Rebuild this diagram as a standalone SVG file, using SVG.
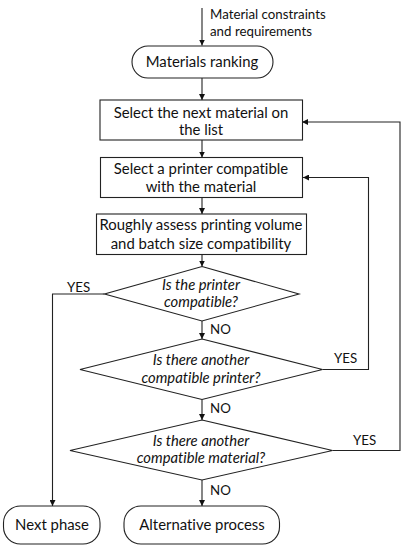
<svg xmlns="http://www.w3.org/2000/svg" width="407" height="550" viewBox="0 0 407 550">
<style>
text{font-variant-ligatures:none}
.s{fill:#fff;stroke:#222;stroke-width:1.1}
.t{font-family:Lato,"Liberation Sans",sans-serif;font-size:14.9px;fill:#111;text-anchor:middle}
.i{font-family:Lato,"Liberation Sans",sans-serif;font-size:14.8px;font-style:italic;fill:#111;text-anchor:middle}
.l{font-family:Lato,"Liberation Sans",sans-serif;font-size:13.3px;fill:#111}
.c{fill:none;stroke:#222;stroke-width:1.1}
</style>
<defs>
<marker id="a" viewBox="0 0 8 8" refX="8" refY="4" markerWidth="6" markerHeight="6" markerUnits="userSpaceOnUse" orient="auto">
<path d="M0,0 L8,4 L0,8 z" fill="#111"/>
</marker>
</defs>
<g id="connectors">
<path class="c" d="M202,8 V45.5" marker-end="url(#a)"/>
<path class="c" d="M202,78 V100" marker-end="url(#a)"/>
<path class="c" d="M202,140 V157.5" marker-end="url(#a)"/>
<path class="c" d="M202,197.5 V214" marker-end="url(#a)"/>
<path class="c" d="M202,254.5 V266.5" marker-end="url(#a)"/>
<path class="c" d="M202,321 V339" marker-end="url(#a)"/>
<path class="c" d="M202,399.5 V420" marker-end="url(#a)"/>
<path class="c" d="M202,480 V506" marker-end="url(#a)"/>
<path class="c" d="M104.5,294 H52.5 V506" marker-end="url(#a)"/>
<path class="c" d="M322.5,369.5 H368.5 V177.5 H303" marker-end="url(#a)"/>
<path class="c" d="M332.5,450.5 H400 V122 H302" marker-end="url(#a)"/>
<text class="l" x="210" y="19">Material constraints</text>
<text class="l" x="210" y="36">and requirements</text>
<text class="l" x="67" y="292">YES</text>
<text class="l" x="210" y="334">NO</text>
<text class="l" x="334" y="363">YES</text>
<text class="l" x="210" y="413">NO</text>
<text class="l" x="353" y="445">YES</text>
<text class="l" x="210" y="495">NO</text>
</g>
<g id="n-ranking">
<rect class="s" x="132" y="46" width="141" height="32" rx="16"/>
<text class="t" x="202" y="67">Materials ranking</text>
</g>
<g id="n-select-material">
<rect class="s" x="100" y="100" width="202.5" height="40"/>
<text class="t" x="201" y="118">Select the next material on</text>
<text class="t" x="201" y="135">the list</text>
</g>
<g id="n-select-printer">
<rect class="s" x="100.5" y="157.5" width="202" height="40"/>
<text class="t" x="201" y="174">Select a printer compatible</text>
<text class="t" x="201" y="192">with the material</text>
</g>
<g id="n-assess">
<rect class="s" x="96.5" y="214" width="210" height="40.5"/>
<text class="t" x="201" y="230">Roughly assess printing volume</text>
<text class="t" x="201" y="249">and batch size compatibility</text>
</g>
<g id="n-d1">
<polygon class="s" points="202,266.5 299,294 202,321 104.5,294"/>
<text class="i" x="201" y="290">Is the printer</text>
<text class="i" x="201" y="307">compatible?</text>
</g>
<g id="n-d2">
<polygon class="s" points="202,339 322.5,369.5 202,399.5 80,369.5"/>
<text class="i" x="201" y="365">Is there another</text>
<text class="i" x="201" y="383">compatible printer?</text>
</g>
<g id="n-d3">
<polygon class="s" points="202,420 332.5,450.5 202,480 70,450.5"/>
<text class="i" x="201" y="446">Is there another</text>
<text class="i" x="201" y="463">compatible material?</text>
</g>
<g id="n-next">
<rect class="s" x="3.5" y="506" width="96.5" height="38" rx="17"/>
<text class="t" x="52" y="530">Next phase</text>
</g>
<g id="n-alt">
<rect class="s" x="124" y="506" width="155.5" height="38" rx="17"/>
<text class="t" x="202" y="530">Alternative process</text>
</g>
</svg>
